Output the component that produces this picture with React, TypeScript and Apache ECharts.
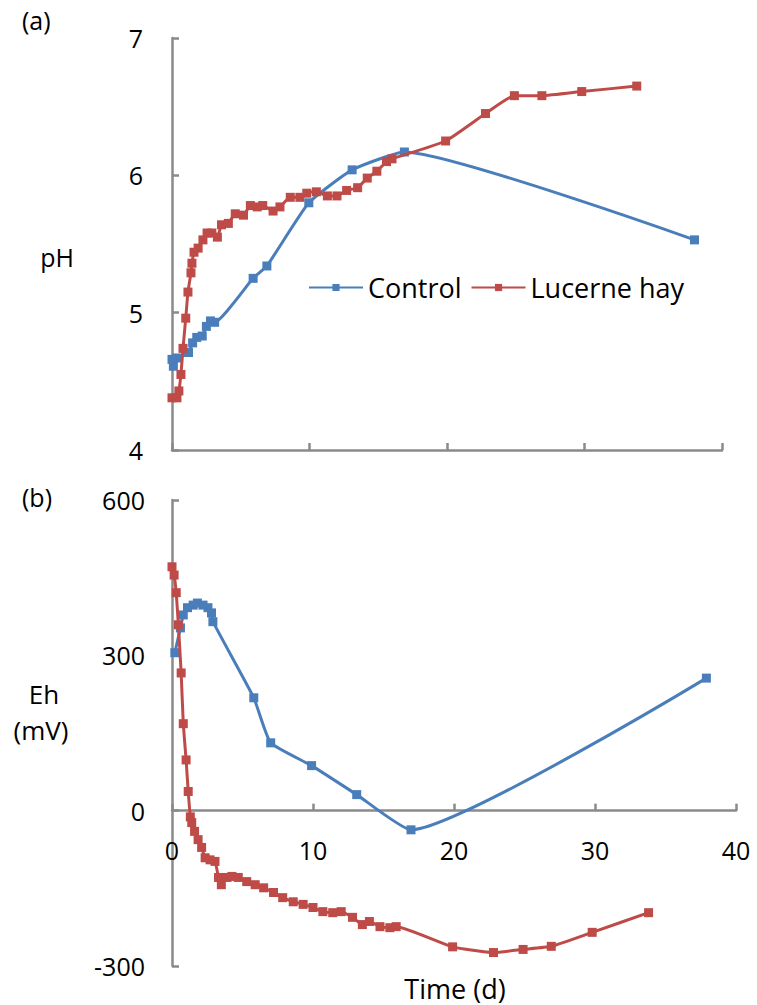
import React, { useEffect, useRef } from "react";
import * as echarts from "echarts";

// ---- Data ----
const ctrlPhX = [0.0, 0.1, 0.35, 1.2, 1.5, 1.8, 2.2, 2.5, 2.8, 3.1, 5.9, 6.9, 9.95, 13.1, 16.9, 38.0];
const ctrlPhY = [4.66, 4.61, 4.67, 4.71, 4.78, 4.82, 4.83, 4.9, 4.94, 4.93, 5.25, 5.34, 5.8, 6.04, 6.17, 5.53];

const lucPhX = [0.0, 0.36, 0.5, 0.65, 0.8, 1.0, 1.16, 1.38, 1.45, 1.6, 1.9, 2.25, 2.55, 2.9, 3.3, 3.6, 4.1, 4.6, 5.2, 5.7, 6.2, 6.6, 7.35, 7.85, 8.6, 9.3, 9.8, 10.5, 11.3, 12.0, 12.7, 13.5, 14.2, 14.9, 15.6, 16.0, 19.9, 22.8, 24.9, 26.9, 29.8, 33.8];
const lucPhY = [4.38, 4.38, 4.43, 4.55, 4.74, 4.96, 5.15, 5.29, 5.36, 5.44, 5.47, 5.53, 5.58, 5.58, 5.55, 5.64, 5.65, 5.72, 5.71, 5.78, 5.77, 5.78, 5.74, 5.77, 5.84, 5.84, 5.87, 5.88, 5.85, 5.85, 5.89, 5.91, 5.98, 6.03, 6.1, 6.12, 6.25, 6.45, 6.58, 6.58, 6.61, 6.65];

const ctrlEhX = [0.2, 0.6, 0.8, 1.1, 1.5, 1.8, 2.2, 2.55, 2.8, 2.9, 5.8, 7.0, 9.9, 13.1, 16.95, 37.9];
const ctrlEhY = [305, 353, 378, 392, 397, 401, 397, 392, 382, 365, 218, 131, 87, 31, -37, 256];

const lucEhX = [0.0, 0.15, 0.3, 0.45, 0.65, 0.8, 1.0, 1.15, 1.3, 1.4, 1.6, 1.85, 2.1, 2.35, 2.7, 3.05, 3.3, 3.5, 3.9, 4.25, 4.7, 5.3, 5.9, 6.5, 7.2, 7.85, 8.6, 9.3, 10.0, 10.7, 11.4, 12.0, 12.8, 13.5, 14.0, 14.75, 15.45, 15.9, 19.9, 22.8, 24.9, 26.9, 29.8, 33.8];
const lucEhY = [471, 455, 421, 359, 266, 168, 98, 37, -12, -23, -40, -56, -71, -91, -95, -98, -129, -143, -129, -127, -129, -137, -143, -149, -158, -168, -176, -181, -187, -195, -197, -195, -206, -220, -214, -224, -226, -224, -263, -274, -268, -262, -235, -197];

const seriesNames = ["Control", "Lucerne hay"];
const xTicks = { min: 0, max: 40, interval: 10 };
const phTicks = { min: 4, max: 7, interval: 1 };
const ehTicks = { min: -300, max: 600, interval: 300 };

const BLUE = "#4a7ebb";
const RED = "#be4b48";
const AXIS = "#8a8a8a";
const FONT = "Open Sans";

const pairs = (xs: number[], ys: number[]) => xs.map((x, i) => [x, ys[i]]);

export default function App() {
  const ref = useRef<HTMLDivElement>(null);
  useEffect(() => {
    if (!ref.current) return;
    const chart = echarts.init(ref.current, null, { renderer: "svg" });
    const axisLine = { show: true, lineStyle: { color: AXIS, width: 2.5 } };
    const axisTick = { show: true, inside: true, length: 7, lineStyle: { color: AXIS, width: 2.5 } };
    const label = { color: "#000", fontSize: 25, fontFamily: FONT };
    const lineSeries = (name: string, color: string, data: number[][], xi: number) => ({
      type: "line",
      name,
      xAxisIndex: xi,
      yAxisIndex: xi,
      data,
      smooth: 0.15,
      symbol: "rect",
      symbolSize: 9,
      itemStyle: { color },
      lineStyle: { color, width: 3 },
      z: color === RED ? 3 : 2,
    });
    chart.setOption({
      animation: false,
      backgroundColor: "#fff",
      textStyle: { fontFamily: FONT },
      legend: {
        data: seriesNames,
        left: 303,
        top: 269,
        itemWidth: 54,
        itemHeight: 9,
        itemGap: 9,
        textStyle: { color: "#000", fontSize: 27, fontFamily: FONT },
      },
      grid: [
        { left: 172, top: 38, width: 550, height: 412 },
        { left: 172, top: 500, width: 564, height: 466 },
        // helper grid whose bottom edge sits on Eh = 0, carrying the time labels
        { left: 172, top: 500, width: 564, height: 311 },
      ],
      xAxis: [
        {
          type: "value", gridIndex: 0, ...xTicks,
          axisLine, axisTick, axisLabel: { show: false }, splitLine: { show: false },
        },
        {
          type: "value", gridIndex: 1, ...xTicks,
          axisLine: { ...axisLine, onZero: true }, axisTick,
          axisLabel: { show: false }, splitLine: { show: false },
        },
        {
          type: "value", gridIndex: 2, ...xTicks,
          axisLine: { show: false }, axisTick: { show: false },
          axisLabel: { ...label, margin: 26 }, splitLine: { show: false },
        },
      ],
      yAxis: [
        {
          type: "value", gridIndex: 0, ...phTicks,
          axisLine, axisTick, axisLabel: { ...label, margin: 29 }, splitLine: { show: false },
        },
        {
          type: "value", gridIndex: 1, ...ehTicks,
          axisLine: { ...axisLine, onZero: false }, axisTick,
          axisLabel: { ...label, margin: 27 }, splitLine: { show: false },
        },
        {
          type: "value", gridIndex: 2, min: 0, max: 1, show: false,
        },
      ],
      series: [
        lineSeries(seriesNames[0], BLUE, pairs(ctrlPhX, ctrlPhY), 0),
        lineSeries(seriesNames[1], RED, pairs(lucPhX, lucPhY), 0),
        lineSeries(seriesNames[0], BLUE, pairs(ctrlEhX, ctrlEhY), 1),
        lineSeries(seriesNames[1], RED, pairs(lucEhX, lucEhY), 1),
      ],
      graphic: [
        { type: "text", left: 22, top: 7, style: { text: "(a)", fontSize: 25, fontFamily: FONT, fill: "#000" } },
        { type: "text", left: 22, top: 484, style: { text: "(b)", fontSize: 25, fontFamily: FONT, fill: "#000" } },
        { type: "text", x: 57, y: 257, style: { text: "pH", fontSize: 25, fontFamily: FONT, fill: "#000", align: "center", verticalAlign: "middle" } },
        { type: "text", x: 44, y: 694, style: { text: "Eh", fontSize: 26, fontFamily: FONT, fill: "#000", align: "center", verticalAlign: "middle" } },
        { type: "text", x: 41, y: 730, style: { text: "(mV)", fontSize: 26, fontFamily: FONT, fill: "#000", align: "center", verticalAlign: "middle" } },
        { type: "text", x: 455, y: 988, style: { text: "Time (d)", fontSize: 27, fontFamily: FONT, fill: "#000", align: "center", verticalAlign: "middle" } },
      ],
    });
    return () => chart.dispose();
  }, []);
  return <div ref={ref} style={{ position: "absolute", left: 0, top: 0, width: 757, height: 1005 }} />;
}
